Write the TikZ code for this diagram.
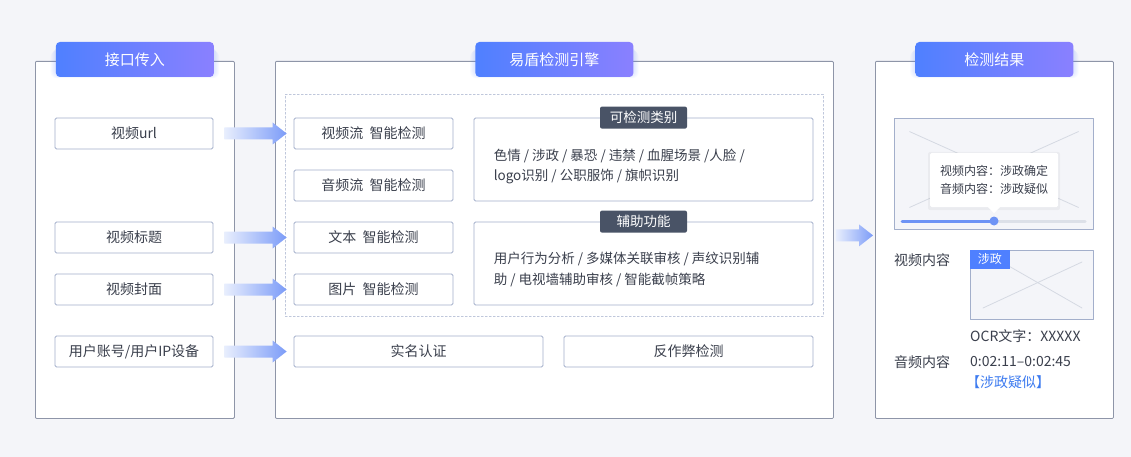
\documentclass[tikz,border=0pt]{standalone}
\usepackage{fontspec}
\setmainfont{Noto Sans CJK SC}
\usetikzlibrary{calc,positioning}
\definecolor{bgpage}{HTML}{F4F5F9}
\definecolor{panelline}{HTML}{8E95A8}
\definecolor{boxline}{HTML}{A3AFCB}
\definecolor{txt}{HTML}{3A3F4C}
\definecolor{tabL}{HTML}{4F80FF}
\definecolor{tabR}{HTML}{8A80FF}
\definecolor{tagdark}{HTML}{495366}
\definecolor{arrowlight}{HTML}{E8EEFD}
\definecolor{arrowblue}{HTML}{7C9CF8}
\definecolor{linkblue}{HTML}{3D7BF0}
\definecolor{crossline}{HTML}{D5D9E2}
\definecolor{slidergray}{HTML}{DCE0E8}
\definecolor{sliderblue}{HTML}{6D93F5}
\newcommand{\flowarrow}[2]{%
  \shade[left color=arrowlight, right color=arrowblue]
    let \p1=#1, \p2=#2 in
    (\x1,{\y1-6pt}) -- ({\x2-14pt},{\y1-6pt}) -- ({\x2-14pt},{\y1-11pt}) -- (\x2,\y1)
    -- ({\x2-14pt},{\y1+11pt}) -- ({\x2-14pt},{\y1+6pt}) -- (\x1,{\y1+6pt}) -- cycle;
}
\newcommand{\tabshadow}[1]{%
  \foreach \s in {1,...,5}{
    \fill[tabL, opacity=0.035, rounded corners=6pt]
      ($(#1.south west)+(-\s,-2+\s*0.6)$) rectangle ($(#1.north east)+(\s,\s*1.2+3)$);
  }
}

\begin{document}
\begin{tikzpicture}[x=1pt, y=-1pt, line cap=round, line join=round]
\tikzset{
  panel/.style={draw=panelline, fill=white, line width=0.8pt, rounded corners=1pt, anchor=north west, inner sep=0},
  tabhead/.style={rounded corners=4pt, left color=tabL, right color=tabR, text=white, minimum width=158pt, minimum height=35pt, font=\fontsize{15}{18}\selectfont, inner sep=0},
  item/.style={draw=boxline, fill=white, rounded corners=1.5pt, minimum height=31pt, text=txt, font=\fontsize{14}{16}\selectfont, inner sep=0, line width=0.8pt},
  tagbox/.style={fill=tagdark, text=white, rounded corners=2pt, minimum width=87pt, minimum height=22pt, font=\fontsize{13.5}{16}\selectfont, inner sep=0},
  plain/.style={text=txt, font=\fontsize{14}{16}\selectfont, inner sep=0, anchor=west},
  cross/.style={draw=crossline, line width=0.8pt}
}

% page
\useasboundingbox (0,0) rectangle (1131,457);
\fill[bgpage] (0,0) rectangle (1131,457);

% panels
\node[panel, minimum width=199pt, minimum height=357pt] (inpanel) at (35,61) {};
\node[panel, minimum width=558pt, minimum height=357pt] (engine) at (275,61) {};
\node[panel, minimum width=238pt, minimum height=357pt] (result) at (875,61) {};

% title tabs
\path (inpanel.north) ++(0,-1.5) coordinate (t1);
\path (engine.north) ++(0,-1.5) coordinate (t2);
\path (result.north) ++(0,-1.5) coordinate (t3);
\node[tabhead, opacity=0] (intab0) at (t1) {};
\node[tabhead, opacity=0] (engtab0) at (t2) {};
\node[tabhead, opacity=0] (restab0) at (t3) {};
\tabshadow{intab0}
\tabshadow{engtab0}
\tabshadow{restab0}
\node[tabhead] (intab) at (t1) {接口传入};
\node[tabhead] (engtab) at (t2) {易盾检测引擎};
\node[tabhead] (restab) at (t3) {检测结果};

% input items
\node[item, minimum width=158pt] (url) at (134,133.5) {视频url};
\node[item, minimum width=158pt] (vtitle) at (134,237.5) {视频标题};
\node[item, minimum width=158pt] (vcover) at (134,289.5) {视频封面};
\node[item, minimum width=158pt] (account) at (134,351.5) {用户账号/用户IP设备};

% engine
\node[draw=boxline!70, dash pattern=on 2pt off 2pt, line width=0.6pt, minimum width=538pt, minimum height=222pt, anchor=north west, inner sep=0] (zone) at (285,94) {};
\node[item, minimum width=159pt] (vstream) at (373.5,133.5) {视频流\ \ 智能检测};
\node[item, minimum width=159pt] (astream) at (373.5,185.5) {音频流\ \ 智能检测};
\node[item, minimum width=159pt] (textchk) at (373.5,237.5) {文本\ \ 智能检测};
\node[item, minimum width=159pt] (imgchk) at (373.5,289.5) {图片\ \ 智能检测};
\node[item, minimum width=339pt, minimum height=83pt] (cat) at (643.5,159.5) {};
\node[item, minimum width=339pt, minimum height=83pt] (aux) at (643.5,263.5) {};
\node[tagbox] (cattag) at (cat.north) {可检测类别};
\node[tagbox] (auxtag) at (aux.north) {辅助功能};
\node[plain, align=left, font=\fontsize{13.5}{20}\selectfont] (cattext) at ($(cat.west)+(20,7)$)
  {色情 / 涉政 / 暴恐 / 违禁 / 血腥场景 /人脸 /\\logo识别 / 公职服饰 / 旗帜识别};
\node[plain, align=left, font=\fontsize{13.5}{21}\selectfont] (auxtext) at ($(aux.west)+(20,6)$)
  {用户行为分析 / 多媒体关联审核 / 声纹识别辅\\助 / 电视墙辅助审核 / 智能截帧策略};
\node[item, minimum width=249pt] (realname) at (418.5,351.5) {实名认证};
\node[item, minimum width=249pt] (anticheat) at (688.5,351.5) {反作弊检测};

% arrows
\flowarrow{($(url.east)+(11,0)$)}{($(vstream.west)+(-7,0)$)}
\flowarrow{($(vtitle.east)+(11,0)$)}{($(textchk.west)+(-7,0)$)}
\flowarrow{($(vcover.east)+(11,0)$)}{($(imgchk.west)+(-7,0)$)}
\flowarrow{($(account.east)+(11,0)$)}{($(realname.west)+(-7,0)$)}
\flowarrow{($(engine.east)+(2,-4.5)$)}{($(result.west)+(-2,-4.5)$)}

% result: video frame
\node[draw=boxline, fill=bgpage, line width=0.8pt, minimum width=199pt, minimum height=111pt, inner sep=0] (frame) at (993.5,173.5) {};
\draw[cross] ($(frame.north west)+(16,14)$) -- ($(frame.south east)+(-15,-22)$);
\draw[cross] ($(frame.north east)+(-15,14)$) -- ($(frame.south west)+(16,-22)$);
\fill[black, opacity=0.04, rounded corners=2pt] (928,152) rectangle (1060,210);
\node[fill=white, rounded corners=1.5pt, minimum width=128pt, minimum height=54pt, inner sep=0] (tip) at (994,180) {};
\fill[white] ($(tip.south)+(-6,0)$) -- ($(tip.south)+(0,6)$) -- ($(tip.south)+(6,0)$) -- cycle;
\node[text=txt, align=left, font=\fontsize{12}{18}\selectfont, inner sep=0] (tiptext) at (tip.center) {视频内容：涉政确定\\音频内容：涉政疑似};
\coordinate (slideL) at (902,221);
\coordinate (slideR) at (1085,221);
\coordinate (knobpos) at (994,221);
\draw[slidergray, line width=3pt] (knobpos) -- (slideR);
\draw[sliderblue, line width=3pt] (slideL) -- (knobpos);
\fill[sliderblue] (knobpos) circle (4.5pt);

% result: details
\node[plain] (vlabel) at (894,260) {视频内容};
\node[draw=boxline, fill=bgpage, line width=0.8pt, minimum width=123pt, minimum height=69pt, inner sep=0] (thumb) at (1031.5,284.5) {};
\draw[cross] (983,308) -- (1082,262);
\draw[cross] (1007,265) -- (1082,308);
\node[fill=tabL, text=white, minimum width=40pt, minimum height=19pt, inner sep=0, anchor=north west, font=\fontsize{12}{14}\selectfont] (poltag) at (thumb.north west) {涉政};
\node[plain] (ocr) at (970,336) {OCR文字：XXXXX};
\node[plain] (alabel) at (894,362) {音频内容};
\node[plain] (atime) at (970,362) {0:02:11–0:02:45};
\node[plain, text=linkblue] (averdict) at (966,382) {【涉政疑似】};
\end{tikzpicture}
\end{document}
